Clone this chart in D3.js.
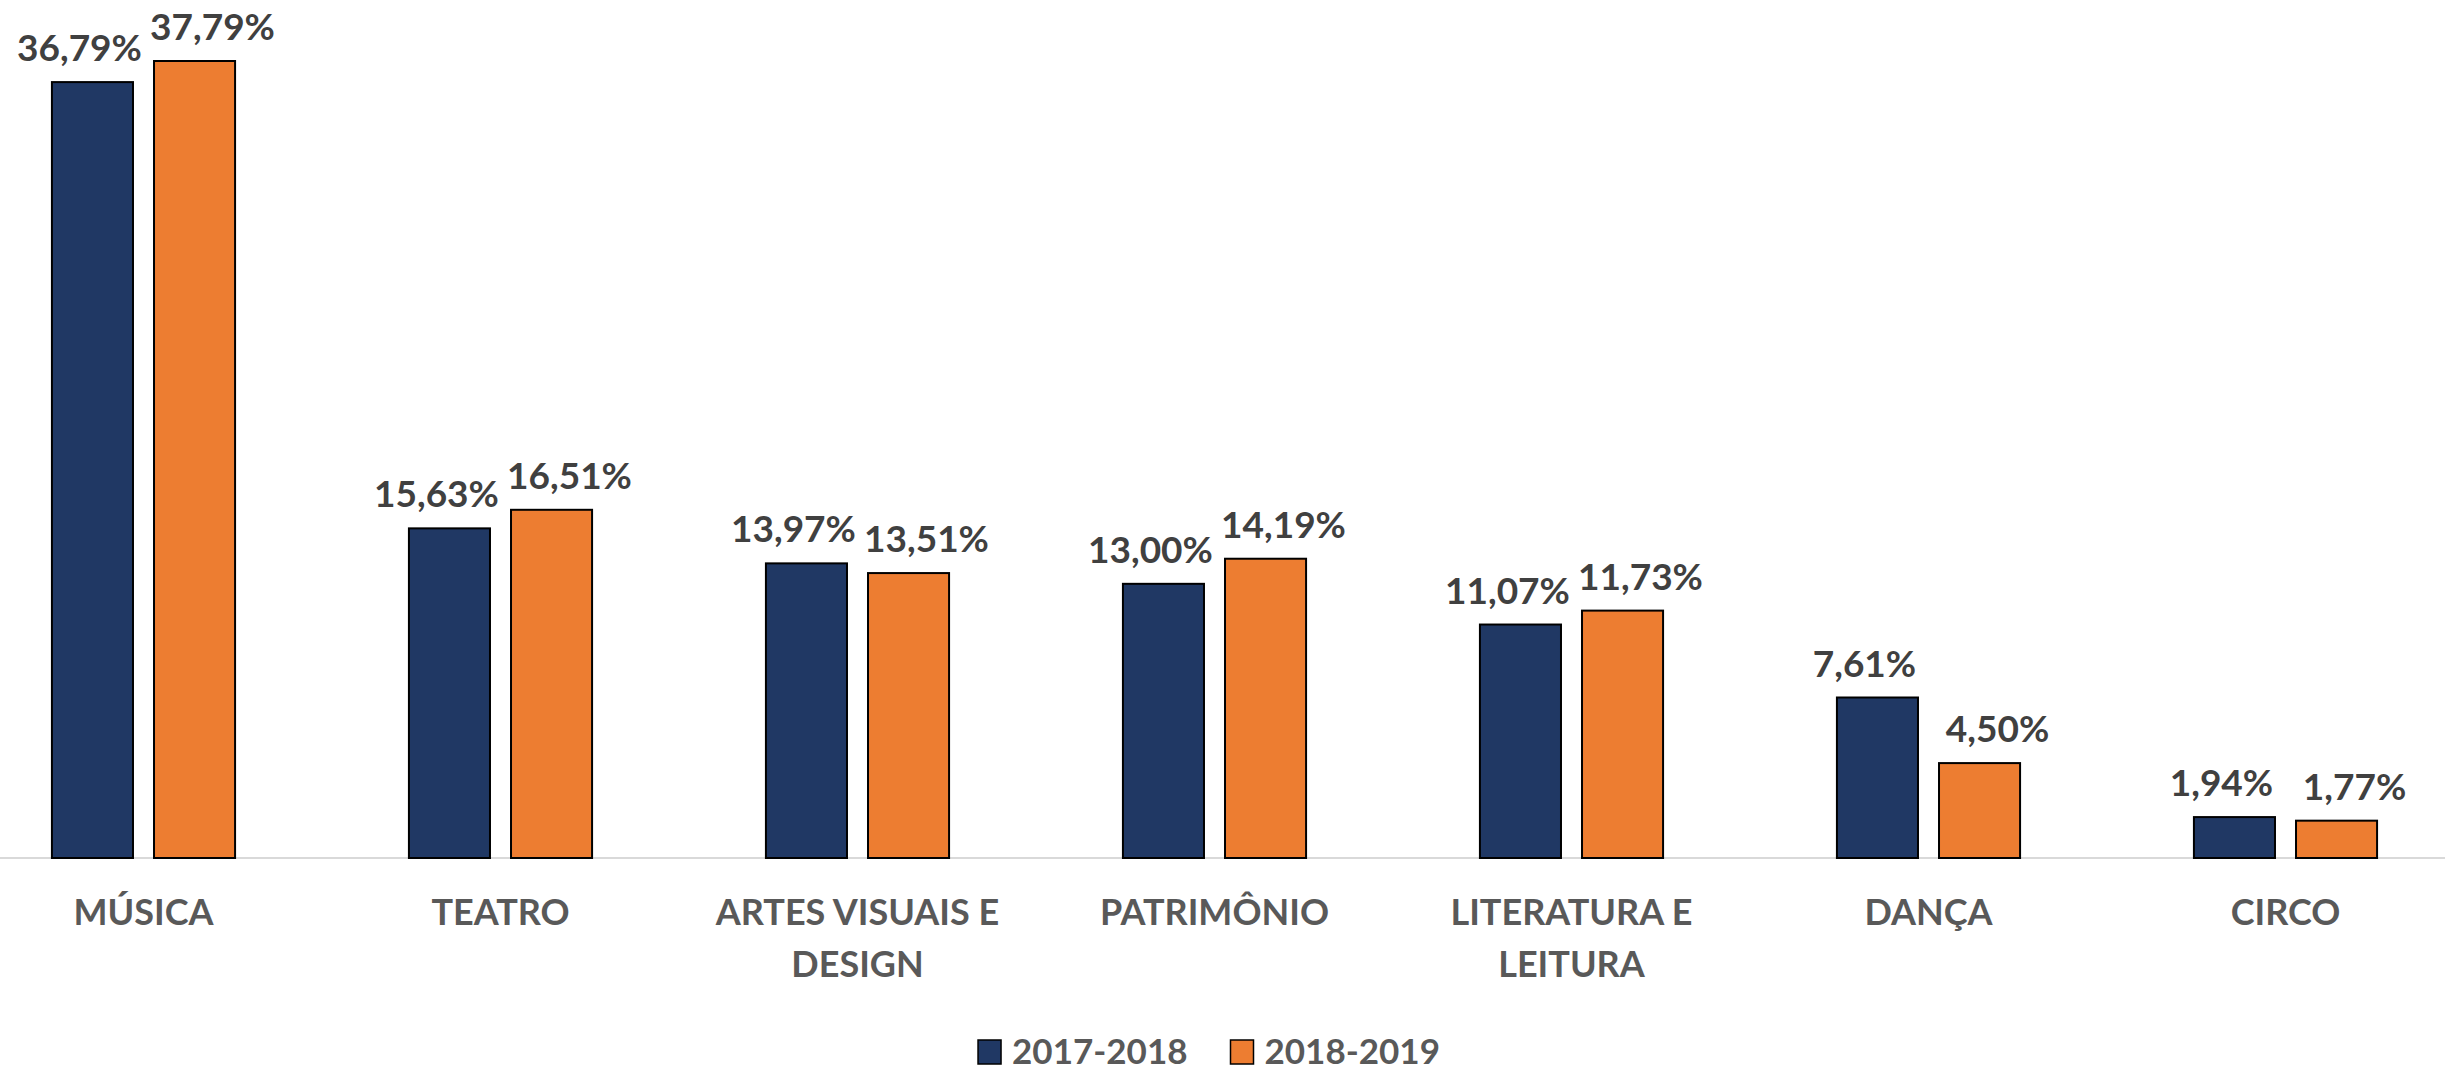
<!DOCTYPE html>
<html>
<head>
    <meta charset="utf-8">
    <script src="https://d3js.org/d3.v7.min.js"></script>
    <style>
        body { margin: 0; background: #fff; }
        svg text { font-family: Lato, "Open Sans", sans-serif; font-weight: bold; }
    </style>
</head>
<body>
    <div id="my_dataviz"></div>
<script>

    // categories and the two periods
    var categories = ["MÚSICA", "TEATRO", "ARTES VISUAIS E DESIGN", "PATRIMÔNIO", "LITERATURA E LEITURA", "DANÇA", "CIRCO"];
    var series = ["2017-2018", "2018-2019"];
    var values2017 = [36.79, 15.63, 13.97, 13.00, 11.07, 7.61, 1.94];
    var values2018 = [37.79, 16.51, 13.51, 14.19, 11.73, 4.50, 1.77];

    var width = 2445, height = 1071;
    var baseY = 858;

    var data = categories.map(function (c, i) {
        return { cat: c, values: [values2017[i], values2018[i]] };
    });

    var svg = d3.select("#my_dataviz")
        .append("svg")
        .attr("width", width)
        .attr("height", height);

    // X axis: group band and bar band inside each group
    var x0 = d3.scaleBand()
        .domain(categories)
        .range([-35, 2464])
        .paddingInner(0.487)
        .paddingOuter(0.2435);

    var x1 = d3.scaleBand()
        .domain(series)
        .range([0, x0.bandwidth()])
        .paddingInner(0.206);

    var y = d3.scaleLinear()
        .domain([0, 37.79])
        .range([baseY, 61]);

    var color = d3.scaleOrdinal()
        .domain(series)
        .range(["#203864", "#ed7d31"]);

    // label nudges so neighbours don't collide (like the original)
    var labelShift = [-13, 18];

    // baseline
    svg.append("line")
        .attr("x1", 0).attr("x2", width)
        .attr("y1", baseY).attr("y2", baseY)
        .attr("stroke", "#d9d9d9")
        .attr("stroke-width", 2);

    var groups = svg.append("g")
        .selectAll("g")
        .data(data)
        .enter().append("g")
        .attr("transform", function (d) { return "translate(" + x0(d.cat) + ",0)"; });

    groups.selectAll("rect")
        .data(function (d) { return d.values.map(function (v, i) { return { key: series[i], value: v }; }); })
        .enter().append("rect")
        .attr("x", function (d) { return x1(d.key); })
        .attr("y", function (d) { return y(d.value); })
        .attr("width", x1.bandwidth())
        .attr("height", function (d) { return y(0) - y(d.value); })
        .attr("fill", function (d) { return color(d.key); })
        .attr("stroke", "#000")
        .attr("stroke-width", 2);

    groups.selectAll("text.val")
        .data(function (d) { return d.values.map(function (v, i) { return { key: series[i], value: v, i: i }; }); })
        .enter().append("text")
        .attr("class", "val")
        .attr("x", function (d) { return x1(d.key) + x1.bandwidth() / 2 + labelShift[d.i]; })
        .attr("y", function (d) { return y(d.value) - 21; })
        .attr("text-anchor", "middle")
        .attr("fill", "#404040")
        .style("font-size", "37px")
        .text(function (d) { return d.value.toFixed(2).replace(".", ",") + "%"; });

    // category labels, wrapped like excel
    var catLabels = svg.append("g")
        .selectAll("text")
        .data(categories)
        .enter().append("text")
        .attr("x", function (d) { return x0(d) + x0.bandwidth() / 2; })
        .attr("y", 925)
        .attr("text-anchor", "middle")
        .attr("fill", "#595959")
        .style("font-size", "36px");

    catLabels.each(function (d) {
        var t = d3.select(this);
        var words = d.split(" ");
        var line = [];
        var tspan = t.append("tspan").attr("x", t.attr("x")).attr("dy", 0);
        words.forEach(function (w) {
            line.push(w);
            tspan.text(line.join(" "));
            if (tspan.node().getComputedTextLength() > 310 && line.length > 1) {
                line.pop();
                tspan.text(line.join(" "));
                line = [w];
                tspan = t.append("tspan").attr("x", t.attr("x")).attr("dy", 52).text(w);
            }
        });
    });

    // legend
    var legend = svg.append("g");
    var lx = 0;
    series.forEach(function (s, i) {
        var g = legend.append("g").attr("transform", "translate(" + lx + ",0)");
        g.append("rect")
            .attr("x", 0).attr("y", 1040)
            .attr("width", 23).attr("height", 24)
            .attr("fill", color(s))
            .attr("stroke", "#000")
            .attr("stroke-width", 1.5);
        var txt = g.append("text")
            .attr("x", 34).attr("y", 1064)
            .attr("fill", "#595959")
            .style("font-size", "35px")
            .text(s);
        lx += 34 + txt.node().getComputedTextLength() + 43;
    });
    var legW = lx - 43;
    legend.attr("transform", "translate(" + (1209 - legW / 2) + ",0)");

</script>
</body>
</html>
